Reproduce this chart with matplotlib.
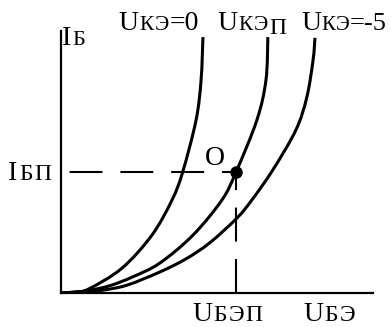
import matplotlib
matplotlib.use("Agg")
import matplotlib.pyplot as plt
import matplotlib.transforms as mtransforms
from matplotlib.path import Path
from matplotlib.patches import PathPatch

SERIF = ["Liberation Serif", "DejaVu Serif"]

# Input characteristics I_b(U_be) of a transistor for three collector voltages
u_ke0 = [0, 0.45, 0.90, 1.96, 2.92, 3.56, 3.90, 4.33, 4.49, 4.55]
i_ke0 = [0, 0.04, 0.16, 0.95, 2.21, 3.54, 4.60, 6.58, 8.10, 9.73]

u_kep = [0, 0.77, 1.57, 2.31, 3.17, 4.23, 5.16, 5.61, 6.28, 6.57, 6.63]
i_kep = [0, 0.07, 0.28, 0.62, 1.14, 2.20, 3.54, 4.60, 6.58, 8.10, 9.73]

u_ke5 = [0, 0.77, 1.35, 2.12, 3.17, 4.01, 4.78, 5.64, 6.12, 6.79, 7.53, 7.88, 8.08, 8.14]
i_ke5 = [0, 0.04, 0.11, 0.30, 0.80, 1.30, 1.92, 2.85, 3.54, 4.68, 6.20, 7.45, 8.86, 9.70]

# Operating point O
u_op = 5.61
i_op = 4.60

fig = plt.figure(figsize=(3.91, 3.27), dpi=100)
ax = fig.add_axes([61 / 391, 34 / 327, 312 / 391, 262 / 327])
ax.set_xlim(0, 10)
ax.set_ylim(0, 9.96)
for side in ("top", "right"):
    ax.spines[side].set_visible(False)
for side in ("left", "bottom"):
    ax.spines[side].set_linewidth(1.6)
ax.set_xticks([])
ax.set_yticks([])


def smooth_curve(xs, ys, **kw):
    """Draw a Catmull-Rom style Bezier curve passing through every given point."""
    pts = list(zip(xs, ys))
    n = len(pts)
    verts = [pts[0]]
    codes = [Path.MOVETO]
    for k in range(n - 1):
        p0 = pts[max(k - 1, 0)]
        p1 = pts[k]
        p2 = pts[k + 1]
        p3 = pts[min(k + 2, n - 1)]
        c1 = (p1[0] + (p2[0] - p0[0]) / 6, p1[1] + (p2[1] - p0[1]) / 6)
        c2 = (p2[0] - (p3[0] - p1[0]) / 6, p2[1] - (p3[1] - p1[1]) / 6)
        verts += [c1, c2, p2]
        codes += [Path.CURVE4] * 3
    ax.add_patch(PathPatch(Path(verts, codes), fill=False, **kw))


curve_kw = dict(edgecolor="black", lw=2.2, joinstyle="round", capstyle="butt")
smooth_curve(u_ke0, i_ke0, **curve_kw)
smooth_curve(u_kep, i_kep, **curve_kw)
smooth_curve(u_ke5, i_ke5, **curve_kw)

# Projections of the operating point onto the axes
ax.plot([u_op, 0], [i_op, i_op], color="black", lw=1.5, linestyle=(9.1, (15.8, 8.6)))
ax.plot([u_op, u_op], [0, i_op], color="black", lw=1.5, linestyle=(0, (16.3, 8.4)))
ax.plot([u_op], [i_op], "o", color="black", ms=8)

renderer = fig.canvas.get_renderer()


def rich_text(x, y, parts, gap=0.0):
    """Draw text pieces of different sizes side by side on a common baseline."""
    dx = 0.0
    for s, size, dy in parts:
        tr = mtransforms.offset_copy(ax.transData, fig=fig, x=dx, y=dy, units="dots")
        t = ax.text(x, y, s, fontsize=size, family=SERIF, ha="left", va="baseline",
                    transform=tr, clip_on=False)
        dx += t.get_window_extent(renderer).width + gap


BIG = 20
SC = 15.5
rich_text(1.83, 10.0, [("U", BIG, 0), ("К", SC, 0), ("Э", SC, 0), ("=0", BIG, 0)], gap=1.0)
rich_text(5.03, 10.0, [("U", BIG, 0), ("К", SC, 0), ("Э", SC, 0), ("П", 17, -4)], gap=1.0)
rich_text(7.72, 10.0, [("U", BIG, 0), ("К", 15, 0), ("Э", 15, 0), ("=-5", 19, 0)], gap=0.0)
rich_text(0.03, 9.43, [("I", BIG, 0), ("Б", 16, 0)], gap=1.0)
rich_text(-1.70, 4.30, [("I", BIG, 0), ("Б", 17, 0), ("П", 17, 0)], gap=2.0)
rich_text(4.62, 4.87, [("O", BIG, 0)])
rich_text(4.20, -1.05, [("U", BIG, 0), ("Б", 17, 0), ("Э", 17, 0), ("П", 17, 0)], gap=1.5)
rich_text(7.76, -1.05, [("U", BIG, 0), ("Б", 17, 0), ("Э", 17, 0)], gap=1.5)

fig.savefig("out.png", dpi=100)
